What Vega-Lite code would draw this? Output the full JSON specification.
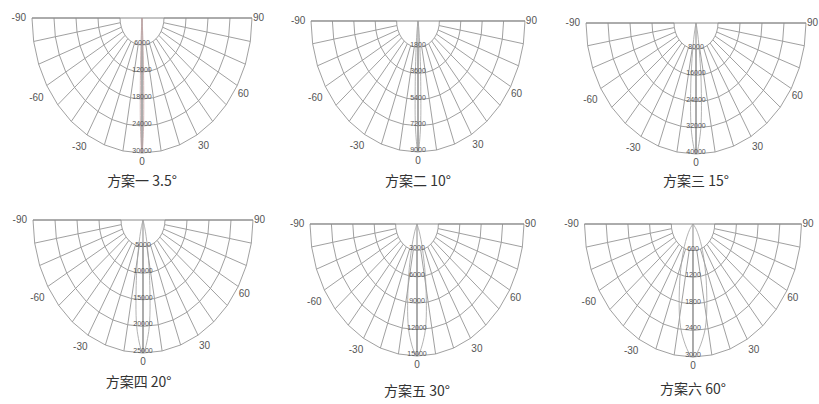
{
"$schema":"https://vega.github.io/schema/vega-lite/v6.json",
"padding":0,"background":"white","columns":3,"spacing":0,"bounds":"flush",
"config":{"view":{"stroke":null},"text":{"font":"Liberation Sans Narrow, Liberation Sans, sans-serif"}},
"datasets":{
"grid":[
{"r":1,"a":-90,"x":-1,"y":0},{"r":1,"a":-80,"x":-0.9848,"y":0.1736},{"r":1,"a":-70,"x":-0.9397,"y":0.342},{"r":1,"a":-60,"x":-0.866,"y":0.5},{"r":1,"a":-50,"x":-0.766,"y":0.6428},{"r":1,"a":-40,"x":-0.6428,"y":0.766},{"r":1,"a":-30,"x":-0.5,"y":0.866},{"r":1,"a":-20,"x":-0.342,"y":0.9397},{"r":1,"a":-10,"x":-0.1736,"y":0.9848},{"r":1,"a":0,"x":0,"y":1},{"r":1,"a":10,"x":0.1736,"y":0.9848},{"r":1,"a":20,"x":0.342,"y":0.9397},{"r":1,"a":30,"x":0.5,"y":0.866},{"r":1,"a":40,"x":0.6428,"y":0.766},{"r":1,"a":50,"x":0.766,"y":0.6428},{"r":1,"a":60,"x":0.866,"y":0.5},{"r":1,"a":70,"x":0.9397,"y":0.342},{"r":1,"a":80,"x":0.9848,"y":0.1736},{"r":1,"a":90,"x":1,"y":0},
{"r":2,"a":-90,"x":-2,"y":0},{"r":2,"a":-80,"x":-1.9696,"y":0.3473},{"r":2,"a":-70,"x":-1.8794,"y":0.684},{"r":2,"a":-60,"x":-1.7321,"y":1},{"r":2,"a":-50,"x":-1.5321,"y":1.2856},{"r":2,"a":-40,"x":-1.2856,"y":1.5321},{"r":2,"a":-30,"x":-1,"y":1.7321},{"r":2,"a":-20,"x":-0.684,"y":1.8794},{"r":2,"a":-10,"x":-0.3473,"y":1.9696},{"r":2,"a":0,"x":0,"y":2},{"r":2,"a":10,"x":0.3473,"y":1.9696},{"r":2,"a":20,"x":0.684,"y":1.8794},{"r":2,"a":30,"x":1,"y":1.7321},{"r":2,"a":40,"x":1.2856,"y":1.5321},{"r":2,"a":50,"x":1.5321,"y":1.2856},{"r":2,"a":60,"x":1.7321,"y":1},{"r":2,"a":70,"x":1.8794,"y":0.684},{"r":2,"a":80,"x":1.9696,"y":0.3473},{"r":2,"a":90,"x":2,"y":0},
{"r":3,"a":-90,"x":-3,"y":0},{"r":3,"a":-80,"x":-2.9544,"y":0.5209},{"r":3,"a":-70,"x":-2.8191,"y":1.0261},{"r":3,"a":-60,"x":-2.5981,"y":1.5},{"r":3,"a":-50,"x":-2.2981,"y":1.9284},{"r":3,"a":-40,"x":-1.9284,"y":2.2981},{"r":3,"a":-30,"x":-1.5,"y":2.5981},{"r":3,"a":-20,"x":-1.0261,"y":2.8191},{"r":3,"a":-10,"x":-0.5209,"y":2.9544},{"r":3,"a":0,"x":0,"y":3},{"r":3,"a":10,"x":0.5209,"y":2.9544},{"r":3,"a":20,"x":1.0261,"y":2.8191},{"r":3,"a":30,"x":1.5,"y":2.5981},{"r":3,"a":40,"x":1.9284,"y":2.2981},{"r":3,"a":50,"x":2.2981,"y":1.9284},{"r":3,"a":60,"x":2.5981,"y":1.5},{"r":3,"a":70,"x":2.8191,"y":1.0261},{"r":3,"a":80,"x":2.9544,"y":0.5209},{"r":3,"a":90,"x":3,"y":0},
{"r":4,"a":-90,"x":-4,"y":0},{"r":4,"a":-80,"x":-3.9392,"y":0.6946},{"r":4,"a":-70,"x":-3.7588,"y":1.3681},{"r":4,"a":-60,"x":-3.4641,"y":2},{"r":4,"a":-50,"x":-3.0642,"y":2.5712},{"r":4,"a":-40,"x":-2.5712,"y":3.0642},{"r":4,"a":-30,"x":-2,"y":3.4641},{"r":4,"a":-20,"x":-1.3681,"y":3.7588},{"r":4,"a":-10,"x":-0.6946,"y":3.9392},{"r":4,"a":0,"x":0,"y":4},{"r":4,"a":10,"x":0.6946,"y":3.9392},{"r":4,"a":20,"x":1.3681,"y":3.7588},{"r":4,"a":30,"x":2,"y":3.4641},{"r":4,"a":40,"x":2.5712,"y":3.0642},{"r":4,"a":50,"x":3.0642,"y":2.5712},{"r":4,"a":60,"x":3.4641,"y":2},{"r":4,"a":70,"x":3.7588,"y":1.3681},{"r":4,"a":80,"x":3.9392,"y":0.6946},{"r":4,"a":90,"x":4,"y":0},
{"r":5,"a":-90,"x":-5,"y":0},{"r":5,"a":-80,"x":-4.924,"y":0.8682},{"r":5,"a":-70,"x":-4.6985,"y":1.7101},{"r":5,"a":-60,"x":-4.3301,"y":2.5},{"r":5,"a":-50,"x":-3.8302,"y":3.2139},{"r":5,"a":-40,"x":-3.2139,"y":3.8302},{"r":5,"a":-30,"x":-2.5,"y":4.3301},{"r":5,"a":-20,"x":-1.7101,"y":4.6985},{"r":5,"a":-10,"x":-0.8682,"y":4.924},{"r":5,"a":0,"x":0,"y":5},{"r":5,"a":10,"x":0.8682,"y":4.924},{"r":5,"a":20,"x":1.7101,"y":4.6985},{"r":5,"a":30,"x":2.5,"y":4.3301},{"r":5,"a":40,"x":3.2139,"y":3.8302},{"r":5,"a":50,"x":3.8302,"y":3.2139},{"r":5,"a":60,"x":4.3301,"y":2.5},{"r":5,"a":70,"x":4.6985,"y":1.7101},{"r":5,"a":80,"x":4.924,"y":0.8682},{"r":5,"a":90,"x":5,"y":0}
],
"axes":[{"x":-5,"y":0,"x2":5,"y2":0},{"x":0,"y":0,"x2":0,"y2":5}],
"alab":[{"t":"-90","x":-5.6,"y":0},{"t":"90","x":5.3,"y":0},{"t":"-60","x":-4.8,"y":2.95},{"t":"60","x":4.6,"y":2.8},{"t":"-30","x":-2.85,"y":4.78},{"t":"30","x":2.8,"y":4.74},{"t":"0","x":0,"y":5.35}]
},
"concat":[
{"width":273,"height":202,
"encoding":{"x":{"field":"x","type":"quantitative","scale":{"domain":[-6.4545,5.9545],"nice":false,"zero":false},"axis":null},"y":{"field":"y","type":"quantitative","scale":{"domain":[-0.6667,6.8148],"nice":false,"zero":false,"reverse":true},"axis":null}},
"layer":[
{"data":{"name":"grid"},"mark":{"type":"line","stroke":"#959595","strokeWidth":0.9},"encoding":{"detail":{"field":"r","type":"nominal"},"order":{"field":"a","type":"quantitative"}}},
{"data":{"name":"grid"},"mark":{"type":"line","stroke":"#959595","strokeWidth":0.9},"encoding":{"detail":{"field":"a","type":"nominal"},"order":{"field":"r","type":"quantitative"}}},
{"data":{"name":"axes"},"mark":{"type":"rule","stroke":"#888","strokeWidth":1},"encoding":{"x2":{"field":"x2"},"y2":{"field":"y2"}}},
{"data":{"values":[{"o":0,"x":0,"y":0},{"o":1,"x":-0.0191,"y":0.3119},{"o":2,"x":-0.0481,"y":1.0499},{"o":3,"x":-0.0763,"y":2.4988},{"o":4,"x":-0.0642,"y":4.2035},{"o":5,"x":0,"y":5},{"o":6,"x":0.0642,"y":4.2035},{"o":7,"x":0.0763,"y":2.4988},{"o":8,"x":0.0481,"y":1.0499},{"o":9,"x":0.0191,"y":0.3119},{"o":10,"x":0,"y":0}]},"mark":{"type":"line","stroke":"#c0a0a0","strokeWidth":0.8,"interpolate":"catmull-rom"},"encoding":{"order":{"field":"o","type":"quantitative"}}},
{"data":{"values":[{"x":0,"y":1,"v":"6000"},{"x":0,"y":2,"v":"12000"},{"x":0,"y":3,"v":"18000"},{"x":0,"y":4,"v":"24000"},{"x":0,"y":5,"v":"30000"}]},"mark":{"type":"text","fontSize":7,"fill":"#555","dy":-2},"encoding":{"text":{"field":"v","type":"nominal"}}},
{"data":{"name":"alab"},"mark":{"type":"text","fontSize":10,"fill":"#555"},"encoding":{"text":{"field":"t","type":"nominal"}}},
{"data":{"values":[{"x":0,"y":6.07,"t":"方案一 3.5°"}]},"mark":{"type":"text","fontSize":14,"fill":"#333","font":"Noto Sans CJK SC"},"encoding":{"text":{"field":"t","type":"nominal"}}}
]},
{"width":273,"height":202,
"encoding":{"x":{"field":"x","type":"quantitative","scale":{"domain":[-6.7757,5.9813],"nice":false,"zero":false},"axis":null},"y":{"field":"y","type":"quantitative","scale":{"domain":[-0.8015,6.9084],"nice":false,"zero":false,"reverse":true},"axis":null}},
"layer":[
{"data":{"name":"grid"},"mark":{"type":"line","stroke":"#959595","strokeWidth":0.9},"encoding":{"detail":{"field":"r","type":"nominal"},"order":{"field":"a","type":"quantitative"}}},
{"data":{"name":"grid"},"mark":{"type":"line","stroke":"#959595","strokeWidth":0.9},"encoding":{"detail":{"field":"a","type":"nominal"},"order":{"field":"r","type":"quantitative"}}},
{"data":{"name":"axes"},"mark":{"type":"rule","stroke":"#888","strokeWidth":1},"encoding":{"x2":{"field":"x2"},"y2":{"field":"y2"}}},
{"data":{"values":[{"o":0,"x":0,"y":0},{"o":1,"x":-0.04,"y":0.3078},{"o":2,"x":-0.09,"y":1.042},{"o":3,"x":-0.13,"y":2.4905},{"o":4,"x":-0.11,"y":4.2},{"o":5,"x":0,"y":5},{"o":6,"x":0.11,"y":4.2},{"o":7,"x":0.13,"y":2.4905},{"o":8,"x":0.09,"y":1.042},{"o":9,"x":0.04,"y":0.3078},{"o":10,"x":0,"y":0}]},"mark":{"type":"line","stroke":"#a0a0a0","strokeWidth":0.8,"interpolate":"catmull-rom"},"encoding":{"order":{"field":"o","type":"quantitative"}}},
{"data":{"values":[{"x":0,"y":1,"v":"1800"},{"x":0,"y":2,"v":"3600"},{"x":0,"y":3,"v":"5400"},{"x":0,"y":4,"v":"7200"},{"x":0,"y":5,"v":"9000"}]},"mark":{"type":"text","fontSize":7,"fill":"#555","dy":-2},"encoding":{"text":{"field":"v","type":"nominal"}}},
{"data":{"name":"alab"},"mark":{"type":"text","fontSize":10,"fill":"#555"},"encoding":{"text":{"field":"t","type":"nominal"}}},
{"data":{"values":[{"x":0,"y":6.15,"t":"方案二 10°"}]},"mark":{"type":"text","fontSize":14,"fill":"#333","font":"Noto Sans CJK SC"},"encoding":{"text":{"field":"t","type":"nominal"}}}
]},
{"width":273,"height":202,
"encoding":{"x":{"field":"x","type":"quantitative","scale":{"domain":[-6.8182,5.5909],"nice":false,"zero":false},"axis":null},"y":{"field":"y","type":"quantitative","scale":{"domain":[-0.8779,6.8321],"nice":false,"zero":false,"reverse":true},"axis":null}},
"layer":[
{"data":{"name":"grid"},"mark":{"type":"line","stroke":"#959595","strokeWidth":0.9},"encoding":{"detail":{"field":"r","type":"nominal"},"order":{"field":"a","type":"quantitative"}}},
{"data":{"name":"grid"},"mark":{"type":"line","stroke":"#959595","strokeWidth":0.9},"encoding":{"detail":{"field":"a","type":"nominal"},"order":{"field":"r","type":"quantitative"}}},
{"data":{"name":"axes"},"mark":{"type":"rule","stroke":"#888","strokeWidth":1},"encoding":{"x2":{"field":"x2"},"y2":{"field":"y2"}}},
{"data":{"values":[{"o":0,"x":0,"y":0},{"o":1,"x":-0.06,"y":0.3019},{"o":2,"x":-0.15,"y":1.0308},{"o":3,"x":-0.24,"y":2.4786},{"o":4,"x":-0.2,"y":4.195},{"o":5,"x":0,"y":5},{"o":6,"x":0.2,"y":4.195},{"o":7,"x":0.24,"y":2.4786},{"o":8,"x":0.15,"y":1.0308},{"o":9,"x":0.06,"y":0.3019},{"o":10,"x":0,"y":0}]},"mark":{"type":"line","stroke":"#a0a0a0","strokeWidth":0.8,"interpolate":"catmull-rom"},"encoding":{"order":{"field":"o","type":"quantitative"}}},
{"data":{"values":[{"x":0,"y":1,"v":"8000"},{"x":0,"y":2,"v":"16000"},{"x":0,"y":3,"v":"24000"},{"x":0,"y":4,"v":"32000"},{"x":0,"y":5,"v":"40000"}]},"mark":{"type":"text","fontSize":7,"fill":"#555","dy":-2},"encoding":{"text":{"field":"v","type":"nominal"}}},
{"data":{"name":"alab"},"mark":{"type":"text","fontSize":10,"fill":"#555"},"encoding":{"text":{"field":"t","type":"nominal"}}},
{"data":{"values":[{"x":0,"y":6.07,"t":"方案三 15°"}]},"mark":{"type":"text","fontSize":14,"fill":"#333","font":"Noto Sans CJK SC"},"encoding":{"text":{"field":"t","type":"nominal"}}}
]},
{"width":273,"height":202,
"encoding":{"x":{"field":"x","type":"quantitative","scale":{"domain":[-6.5,5.9091],"nice":false,"zero":false},"axis":null},"y":{"field":"y","type":"quantitative","scale":{"domain":[-0.6767,6.9173],"nice":false,"zero":false,"reverse":true},"axis":null}},
"layer":[
{"data":{"name":"grid"},"mark":{"type":"line","stroke":"#959595","strokeWidth":0.9},"encoding":{"detail":{"field":"r","type":"nominal"},"order":{"field":"a","type":"quantitative"}}},
{"data":{"name":"grid"},"mark":{"type":"line","stroke":"#959595","strokeWidth":0.9},"encoding":{"detail":{"field":"a","type":"nominal"},"order":{"field":"r","type":"quantitative"}}},
{"data":{"name":"axes"},"mark":{"type":"rule","stroke":"#888","strokeWidth":1},"encoding":{"x2":{"field":"x2"},"y2":{"field":"y2"}}},
{"data":{"values":[{"o":0,"x":0,"y":0},{"o":1,"x":-0.08,"y":0.2937},{"o":2,"x":-0.2,"y":1.0152},{"o":3,"x":-0.31,"y":2.462},{"o":4,"x":-0.26,"y":4.188},{"o":5,"x":0,"y":5},{"o":6,"x":0.26,"y":4.188},{"o":7,"x":0.31,"y":2.462},{"o":8,"x":0.2,"y":1.0152},{"o":9,"x":0.08,"y":0.2937},{"o":10,"x":0,"y":0}]},"mark":{"type":"line","stroke":"#a0a0a0","strokeWidth":0.8,"interpolate":"catmull-rom"},"encoding":{"order":{"field":"o","type":"quantitative"}}},
{"data":{"values":[{"x":0,"y":1,"v":"5000"},{"x":0,"y":2,"v":"10000"},{"x":0,"y":3,"v":"15000"},{"x":0,"y":4,"v":"20000"},{"x":0,"y":5,"v":"25000"}]},"mark":{"type":"text","fontSize":7,"fill":"#555","dy":-2},"encoding":{"text":{"field":"v","type":"nominal"}}},
{"data":{"name":"alab"},"mark":{"type":"text","fontSize":10,"fill":"#555"},"encoding":{"text":{"field":"t","type":"nominal"}}},
{"data":{"values":[{"x":-0.2,"y":6.13,"t":"方案四 20°"}]},"mark":{"type":"text","fontSize":14,"fill":"#333","font":"Noto Sans CJK SC"},"encoding":{"text":{"field":"t","type":"nominal"}}}
]},
{"width":273,"height":202,
"encoding":{"x":{"field":"x","type":"quantitative","scale":{"domain":[-6.729,6.028],"nice":false,"zero":false},"axis":null},"y":{"field":"y","type":"quantitative","scale":{"domain":[-0.8333,6.8182],"nice":false,"zero":false,"reverse":true},"axis":null}},
"layer":[
{"data":{"name":"grid"},"mark":{"type":"line","stroke":"#959595","strokeWidth":0.9},"encoding":{"detail":{"field":"r","type":"nominal"},"order":{"field":"a","type":"quantitative"}}},
{"data":{"name":"grid"},"mark":{"type":"line","stroke":"#959595","strokeWidth":0.9},"encoding":{"detail":{"field":"a","type":"nominal"},"order":{"field":"r","type":"quantitative"}}},
{"data":{"name":"axes"},"mark":{"type":"rule","stroke":"#888","strokeWidth":1},"encoding":{"x2":{"field":"x2"},"y2":{"field":"y2"}}},
{"data":{"values":[{"o":0,"x":0,"y":0},{"o":1,"x":-0.1,"y":0.2706},{"o":2,"x":-0.26,"y":0.971},{"o":3,"x":-0.42,"y":2.4148},{"o":4,"x":-0.36,"y":4.168},{"o":5,"x":0,"y":5},{"o":6,"x":0.36,"y":4.168},{"o":7,"x":0.42,"y":2.4148},{"o":8,"x":0.26,"y":0.971},{"o":9,"x":0.1,"y":0.2706},{"o":10,"x":0,"y":0}]},"mark":{"type":"line","stroke":"#a0a0a0","strokeWidth":0.8,"interpolate":"catmull-rom"},"encoding":{"order":{"field":"o","type":"quantitative"}}},
{"data":{"values":[{"x":0,"y":1,"v":"3000"},{"x":0,"y":2,"v":"6000"},{"x":0,"y":3,"v":"9000"},{"x":0,"y":4,"v":"12000"},{"x":0,"y":5,"v":"15000"}]},"mark":{"type":"text","fontSize":7,"fill":"#555","dy":-2},"encoding":{"text":{"field":"v","type":"nominal"}}},
{"data":{"name":"alab"},"mark":{"type":"text","fontSize":10,"fill":"#555"},"encoding":{"text":{"field":"t","type":"nominal"}}},
{"data":{"values":[{"x":0,"y":6.36,"t":"方案五 30°"}]},"mark":{"type":"text","fontSize":14,"fill":"#333","font":"Noto Sans CJK SC"},"encoding":{"text":{"field":"t","type":"nominal"}}}
]},
{"width":273,"height":202,
"encoding":{"x":{"field":"x","type":"quantitative","scale":{"domain":[-6.7742,5.8065],"nice":false,"zero":false},"axis":null},"y":{"field":"y","type":"quantitative","scale":{"domain":[-0.8271,6.7669],"nice":false,"zero":false,"reverse":true},"axis":null}},
"layer":[
{"data":{"name":"grid"},"mark":{"type":"line","stroke":"#959595","strokeWidth":0.9},"encoding":{"detail":{"field":"r","type":"nominal"},"order":{"field":"a","type":"quantitative"}}},
{"data":{"name":"grid"},"mark":{"type":"line","stroke":"#959595","strokeWidth":0.9},"encoding":{"detail":{"field":"a","type":"nominal"},"order":{"field":"r","type":"quantitative"}}},
{"data":{"name":"axes"},"mark":{"type":"rule","stroke":"#888","strokeWidth":1},"encoding":{"x2":{"field":"x2"},"y2":{"field":"y2"}}},
{"data":{"values":[{"o":0,"x":0,"y":0},{"o":1,"x":-0.15,"y":0.2},{"o":2,"x":-0.4,"y":0.85},{"o":3,"x":-0.62,"y":2.3},{"o":4,"x":-0.52,"y":4.1},{"o":5,"x":0,"y":5},{"o":6,"x":0.52,"y":4.1},{"o":7,"x":0.62,"y":2.3},{"o":8,"x":0.4,"y":0.85},{"o":9,"x":0.15,"y":0.2},{"o":10,"x":0,"y":0}]},"mark":{"type":"line","stroke":"#a0a0a0","strokeWidth":0.8,"interpolate":"catmull-rom"},"encoding":{"order":{"field":"o","type":"quantitative"}}},
{"data":{"values":[{"x":0,"y":1,"v":"600"},{"x":0,"y":2,"v":"1200"},{"x":0,"y":3,"v":"1800"},{"x":0,"y":4,"v":"2400"},{"x":0,"y":5,"v":"3000"}]},"mark":{"type":"text","fontSize":7,"fill":"#555","dy":-2},"encoding":{"text":{"field":"v","type":"nominal"}}},
{"data":{"name":"alab"},"mark":{"type":"text","fontSize":10,"fill":"#555"},"encoding":{"text":{"field":"t","type":"nominal"}}},
{"data":{"values":[{"x":0,"y":6.24,"t":"方案六 60°"}]},"mark":{"type":"text","fontSize":14,"fill":"#333","font":"Noto Sans CJK SC"},"encoding":{"text":{"field":"t","type":"nominal"}}}
]}
]
}
